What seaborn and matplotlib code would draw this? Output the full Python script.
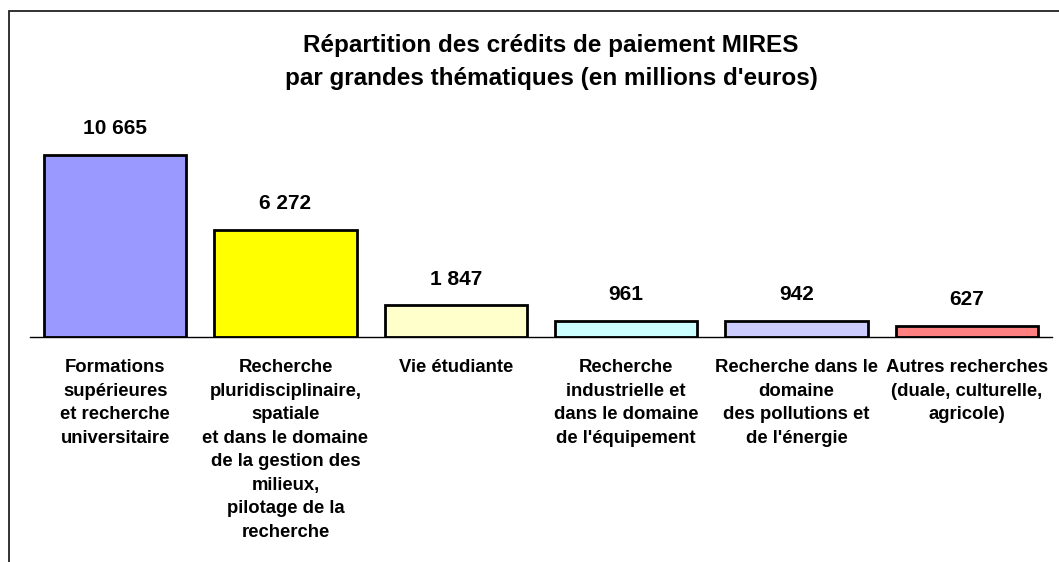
import matplotlib
matplotlib.use("Agg")
import matplotlib.pyplot as plt
import seaborn as sns
import pandas as pd
from matplotlib.patches import Rectangle

categories = [
    "Formations\nsupérieures\net recherche\nuniversitaire",
    "Recherche\npluridisciplinaire,\nspatiale\net dans le domaine\nde la gestion des\nmilieux,\npilotage de la\nrecherche",
    "Vie étudiante",
    "Recherche\nindustrielle et\ndans le domaine\nde l'équipement",
    "Recherche dans le\ndomaine\ndes pollutions et\nde l'énergie",
    "Autres recherches\n(duale, culturelle,\nagricole)",
]
values = [10665, 6272, 1847, 961, 942, 627]
colors = ["#9999FF", "#FFFF00", "#FFFFCC", "#CCFFFF", "#CCCCFF", "#FF8080"]
title = "Répartition des crédits de paiement MIRES\npar grandes thématiques (en millions d'euros)"

sns.set_style("white")
plt.rcParams["font.family"] = ["Liberation Sans", "DejaVu Sans"]
plt.rcParams["text.color"] = "black"
plt.rcParams["xtick.color"] = "black"

W, H = 1059, 562
fig = plt.figure(figsize=(W / 100, H / 100), dpi=100)

# frame of the chart area (only top and left edges visible in the crop)
fig.patches.append(Rectangle((9 / W, -0.1), 1.2, 1 - 11 / H + 0.1, transform=fig.transFigure,
                             fill=False, edgecolor="#222222", linewidth=1.3))

ax = fig.add_axes([30 / W, (H - 337) / H, 1022 / W, (337 - 100) / H])
df = pd.DataFrame({"cat": categories, "val": values})
sns.barplot(data=df, x="cat", y="val", hue="cat", palette=colors, legend=False, saturation=1,
            width=0.837, edgecolor="black", linewidth=2, ax=ax)

ax.set_xlim(-0.5, len(values) - 0.5)
ax.set_ylim(0, 237 / 0.01707)
ax.set_xlabel("")
ax.set_ylabel("")
ax.set_yticks([])
for s in ["top", "right", "left"]:
    ax.spines[s].set_visible(False)
ax.spines["bottom"].set_color("black")
ax.spines["bottom"].set_linewidth(1)

ax.set_xticks(range(len(values)))
ax.set_xticklabels(categories, fontsize=13.3, fontweight="bold")
ax.set_xticks([i - 0.5 for i in range(len(values) + 1)], minor=True)
ax.tick_params(axis="x", which="major", length=0, pad=16)
ax.tick_params(axis="x", which="minor", length=5, width=1, color="#444444", direction="out")
for lab in ax.get_xticklabels():
    lab.set_linespacing(1.5)
    lab.set_color("black")

for i, v in enumerate(values):
    ax.annotate(f"{v:,}".replace(",", " "), (i, v), xytext=(0, 15), textcoords="offset points",
                ha="center", va="baseline", fontsize=15, fontweight="bold", color="black")

fig.text(551 / W, 1 - 62 / H, title, ha="center", va="center", fontsize=17.5,
         fontweight="bold", linespacing=1.55, color="black")

fig.savefig("out.png", dpi=100)
